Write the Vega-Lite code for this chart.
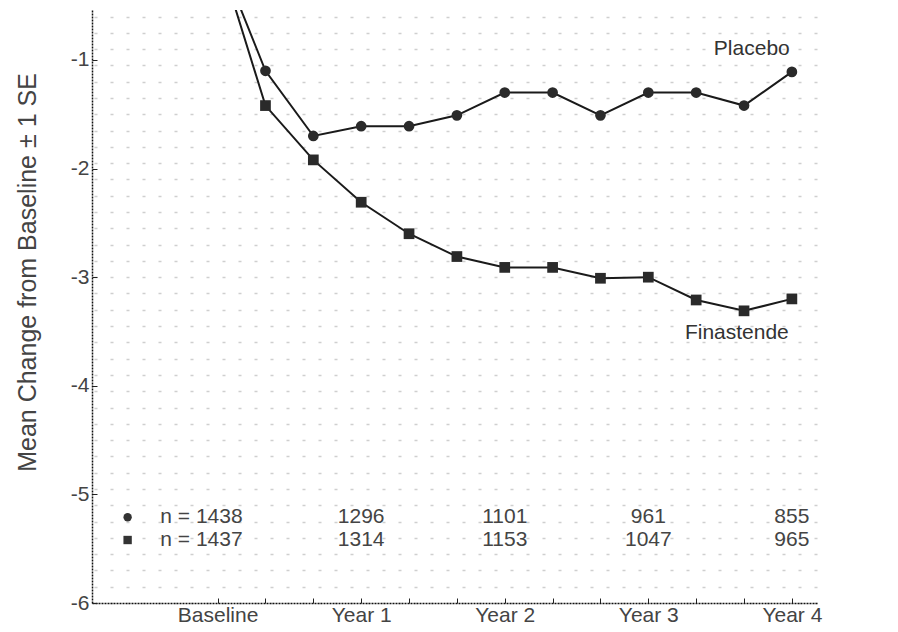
{
  "$schema": "https://vega.github.io/schema/vega-lite/v6.json",
  "width": 725,
  "height": 593,
  "autosize": "none",
  "padding": {"left": 92, "top": 10, "right": 81, "bottom": 29},
  "background": "white",
  "config": {"view": {"stroke": null}, "font": "Liberation Sans"},
  "datasets": {
    "series": [
      {"group": "Placebo", "month": 0, "v": 0},
      {"group": "Placebo", "month": 4, "v": -1.10},
      {"group": "Placebo", "month": 8, "v": -1.70},
      {"group": "Placebo", "month": 12, "v": -1.61},
      {"group": "Placebo", "month": 16, "v": -1.61},
      {"group": "Placebo", "month": 20, "v": -1.51},
      {"group": "Placebo", "month": 24, "v": -1.30},
      {"group": "Placebo", "month": 28, "v": -1.30},
      {"group": "Placebo", "month": 32, "v": -1.51},
      {"group": "Placebo", "month": 36, "v": -1.30},
      {"group": "Placebo", "month": 40, "v": -1.30},
      {"group": "Placebo", "month": 44, "v": -1.42},
      {"group": "Placebo", "month": 48, "v": -1.11},
      {"group": "Finasteride", "month": 0, "v": 0},
      {"group": "Finasteride", "month": 4, "v": -1.42},
      {"group": "Finasteride", "month": 8, "v": -1.92},
      {"group": "Finasteride", "month": 12, "v": -2.31},
      {"group": "Finasteride", "month": 16, "v": -2.60},
      {"group": "Finasteride", "month": 20, "v": -2.81},
      {"group": "Finasteride", "month": 24, "v": -2.91},
      {"group": "Finasteride", "month": 28, "v": -2.91},
      {"group": "Finasteride", "month": 32, "v": -3.01},
      {"group": "Finasteride", "month": 36, "v": -3.00},
      {"group": "Finasteride", "month": 40, "v": -3.21},
      {"group": "Finasteride", "month": 44, "v": -3.31},
      {"group": "Finasteride", "month": 48, "v": -3.20}
    ],
    "counts": [
      {"group": "Placebo", "month": 0, "v": -5.21, "label": "n = 1438"},
      {"group": "Placebo", "month": 12, "v": -5.21, "label": "1296"},
      {"group": "Placebo", "month": 24, "v": -5.21, "label": "1101"},
      {"group": "Placebo", "month": 36, "v": -5.21, "label": "961"},
      {"group": "Placebo", "month": 48, "v": -5.21, "label": "855"},
      {"group": "Finasteride", "month": 0, "v": -5.42, "label": "n = 1437"},
      {"group": "Finasteride", "month": 12, "v": -5.42, "label": "1314"},
      {"group": "Finasteride", "month": 24, "v": -5.42, "label": "1153"},
      {"group": "Finasteride", "month": 36, "v": -5.42, "label": "1047"},
      {"group": "Finasteride", "month": 48, "v": -5.42, "label": "965"}
    ],
    "names": [
      {"month": 44.65, "v": -0.9, "label": "Placebo"},
      {"month": 43.4, "v": -3.51, "label": "Finastende"}
    ]
  },
  "layer": [
    {
      "data": {"name": "series"},
      "mark": {"type": "point", "opacity": 0},
      "encoding": {
        "x": {"field": "month", "type": "quantitative", "scale": {"domain": [-10.5, 50.1], "nice": false, "zero": false}, "axis": null},
        "y": {
          "field": "v", "type": "quantitative", "scale": {"domain": [-6, -0.54], "nice": false, "zero": false},
          "axis": {
            "orient": "right",
            "values": [-6, -5.85, -5.7, -5.55, -5.4, -5.25, -5.1, -4.95, -4.8, -4.65, -4.5, -4.35, -4.2, -4.05, -3.9, -3.75, -3.6, -3.45, -3.3, -3.15, -3, -2.85, -2.7, -2.55, -2.4, -2.25, -2.1, -1.95, -1.8, -1.65, -1.5, -1.35, -1.2, -1.05, -0.9, -0.75, -0.6],
            "grid": true, "gridDash": [3, 13], "gridColor": "#cfcfcf", "gridWidth": 1.5,
            "domain": false, "ticks": false, "labels": false, "title": null
          }
        }
      }
    },
    {
      "layer": [
        {
          "data": {"name": "series"},
          "mark": {"type": "line", "clip": true, "strokeWidth": 2, "color": "#1a1a1a"},
          "encoding": {
            "x": {
              "field": "month", "type": "quantitative", "scale": {"domain": [-10.5, 50.1], "nice": false, "zero": false},
              "axis": {
                "values": [0, 4, 8, 12, 16, 20, 24, 28, 32, 36, 40, 44, 48],
                "labelExpr": "datum.value == 0 ? 'Baseline' : (datum.value % 12 == 0 ? 'Year ' + (datum.value / 12) : '')",
                "grid": false, "title": null,
                "domainColor": "#111", "domainWidth": 1.5, "domainDash": [2, 1],
                "tickColor": "#222", "tickSize": -5, "tickWidth": 1,
                "labelFontSize": 21, "labelColor": "#444", "labelPadding": 6,
                "labelFont": "Liberation Sans"
              }
            },
            "y": {
              "field": "v", "type": "quantitative", "scale": {"domain": [-6, -0.54], "nice": false, "zero": false},
              "axis": {
                "values": [-6, -5, -4, -3, -2, -1],
                "labelExpr": "'' + datum.value",
                "grid": false,
                "title": "Mean Change from Baseline ± 1 SE",
                "titleFontSize": 25, "titleFontWeight": "normal", "titleColor": "#444",
                "titlePadding": 30, "titleY": 262, "titleFont": "Liberation Sans",
                "domainColor": "#111", "domainWidth": 1.5, "domainDash": [2, 1],
                "tickColor": "#222", "tickSize": -5, "tickWidth": 1,
                "labelFontSize": 21, "labelColor": "#444", "labelPadding": 8,
                "labelFont": "Liberation Sans"
              }
            },
            "detail": {"field": "group"}
          }
        },
        {
          "data": {"name": "series"},
          "transform": [{"filter": "datum.month > 0"}],
          "mark": {"type": "point", "filled": true, "size": 115, "color": "#2a2a2a", "opacity": 1},
          "encoding": {
            "x": {"field": "month", "type": "quantitative"},
            "y": {"field": "v", "type": "quantitative"},
            "shape": {"field": "group", "type": "nominal", "scale": {"domain": ["Placebo", "Finasteride"], "range": ["circle", "square"]}, "legend": null}
          }
        },
        {
          "data": {"name": "counts"},
          "transform": [{"filter": "datum.month == 0"}],
          "mark": {"type": "point", "filled": true, "size": 70, "color": "#333", "opacity": 1, "xOffset": -90},
          "encoding": {
            "x": {"field": "month", "type": "quantitative"},
            "y": {"field": "v", "type": "quantitative"},
            "shape": {"field": "group", "type": "nominal", "scale": {"domain": ["Placebo", "Finasteride"], "range": ["circle", "square"]}, "legend": null}
          }
        },
        {
          "data": {"name": "counts"},
          "transform": [{"filter": "datum.month == 0"}],
          "mark": {"type": "text", "align": "right", "baseline": "middle", "dx": 25, "fontSize": 21, "color": "#444", "font": "Liberation Sans"},
          "encoding": {
            "x": {"field": "month", "type": "quantitative"},
            "y": {"field": "v", "type": "quantitative"},
            "text": {"field": "label"}
          }
        },
        {
          "data": {"name": "counts"},
          "transform": [{"filter": "datum.month > 0"}],
          "mark": {"type": "text", "align": "center", "baseline": "middle", "fontSize": 21, "color": "#444", "font": "Liberation Sans"},
          "encoding": {
            "x": {"field": "month", "type": "quantitative"},
            "y": {"field": "v", "type": "quantitative"},
            "text": {"field": "label"}
          }
        },
        {
          "data": {"name": "names"},
          "mark": {"type": "text", "align": "center", "baseline": "middle", "fontSize": 21, "color": "#333", "font": "Liberation Sans"},
          "encoding": {
            "x": {"field": "month", "type": "quantitative"},
            "y": {"field": "v", "type": "quantitative"},
            "text": {"field": "label"}
          }
        }
      ]
    }
  ],
  "resolve": {"axis": {"x": "independent", "y": "independent"}}
}
